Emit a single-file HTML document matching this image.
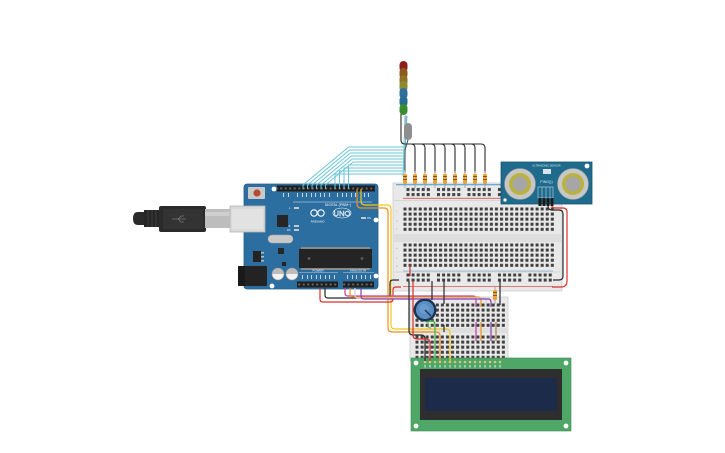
<!DOCTYPE html>
<html><head><meta charset="utf-8"><style>html,body{margin:0;padding:0;background:#fff;}svg{display:block;}</style></head>
<body>
<svg width="725" height="453" viewBox="0 0 725 453" xmlns="http://www.w3.org/2000/svg" font-family="Liberation Sans, sans-serif">
<defs>
<pattern id="pm1" x="402.5" y="206.5" width="5.08" height="5.08" patternUnits="userSpaceOnUse"><rect x="1" y="1" width="3" height="3" fill="#3f3f3f"/></pattern>
<pattern id="pm2" x="402.5" y="242.5" width="5.08" height="5.08" patternUnits="userSpaceOnUse"><rect x="1" y="1" width="3" height="3" fill="#3f3f3f"/></pattern>
<pattern id="pr1" x="405.5" y="187" width="30.48" height="5.08" patternUnits="userSpaceOnUse"><g fill="#3f3f3f"><rect x="1" y="1" width="3" height="3"/><rect x="6.08" y="1" width="3" height="3"/><rect x="11.16" y="1" width="3" height="3"/><rect x="16.24" y="1" width="3" height="3"/><rect x="21.32" y="1" width="3" height="3"/></g></pattern>
<pattern id="pr2" x="405.5" y="272.5" width="30.48" height="5.08" patternUnits="userSpaceOnUse"><g fill="#3f3f3f"><rect x="1" y="1" width="3" height="3"/><rect x="6.08" y="1" width="3" height="3"/><rect x="11.16" y="1" width="3" height="3"/><rect x="16.24" y="1" width="3" height="3"/><rect x="21.32" y="1" width="3" height="3"/></g></pattern>
<pattern id="ps1" x="414.5" y="302.5" width="5.08" height="5.08" patternUnits="userSpaceOnUse"><rect x="1" y="1" width="3" height="3" fill="#3f3f3f"/></pattern>
<pattern id="ps2" x="414.5" y="334.5" width="5.08" height="5.08" patternUnits="userSpaceOnUse"><rect x="1" y="1" width="3" height="3" fill="#3f3f3f"/></pattern>
<pattern id="hdr" x="0" y="0" width="4.5" height="6" patternUnits="userSpaceOnUse"><rect x="1.2" y="1.5" width="2" height="2" fill="#666"/></pattern>
</defs>
<rect width="725" height="453" fill="#fff"/>

<!-- MAIN BREADBOARD -->
<rect x="393" y="183" width="169" height="108" fill="#e9e9e9" stroke="#cdcdcd" stroke-width="0.8"/>
<line x1="394" y1="200.5" x2="561" y2="200.5" stroke="#cfcfcf" stroke-width="0.8"/>
<line x1="394" y1="272" x2="561" y2="272" stroke="#cfcfcf" stroke-width="0.8"/>
<rect x="394" y="234" width="167" height="8" fill="#dedede"/>
<line x1="396" y1="184.8" x2="559" y2="184.8" stroke="#3b9ad2" stroke-width="1"/>
<line x1="403" y1="198.3" x2="553" y2="198.3" stroke="#d9534f" stroke-width="0.8"/>
<line x1="403" y1="271" x2="553" y2="271" stroke="#3b9ad2" stroke-width="0.6"/>
<line x1="403" y1="286.5" x2="553" y2="286.5" stroke="#d9534f" stroke-width="0.8"/>
<rect x="405.5" y="187" width="148" height="10.16" fill="url(#pr1)"/>
<rect x="402.5" y="206.5" width="152.4" height="25.4" fill="url(#pm1)"/>
<rect x="402.5" y="242.5" width="152.4" height="25.4" fill="url(#pm2)"/>
<rect x="405.5" y="272.5" width="148" height="10.16" fill="url(#pr2)"/>
<g fill="#9a9a9a" font-size="2.6"><text x="396" y="212">j</text><text x="396" y="222">h</text><text x="396" y="230">f</text><text x="396" y="249">e</text><text x="396" y="259">c</text><text x="396" y="267">a</text></g>

<!-- SMALL BREADBOARD -->
<rect x="410" y="297" width="98" height="64" fill="#e9e9e9" stroke="#cdcdcd" stroke-width="0.8"/>
<rect x="411" y="328" width="96" height="5" fill="#dedede"/>
<rect x="414.5" y="302.5" width="91.4" height="25.4" fill="url(#ps1)"/>
<rect x="414.5" y="334.5" width="91.4" height="25.4" fill="url(#ps2)"/>

<!-- USB CABLE -->
<path d="M145,212 L138,212 Q133,212 133,218.5 Q133,225 138,225 L145,225 Z" fill="#2a2a2a"/>
<rect x="144" y="210" width="17" height="17" fill="#262626"/>
<g stroke="#444" stroke-width="0.8"><line x1="148" y1="210" x2="148" y2="227"/><line x1="152" y1="210" x2="152" y2="227"/><line x1="156" y1="210" x2="156" y2="227"/></g>
<rect x="159" y="206" width="47" height="26" rx="2" fill="#2b2b2b"/>
<rect x="163" y="209" width="40" height="20" fill="#333"/>
<path d="M172,219 H186 M178,219 L181,216 H184 M178,219 L181,222 H184" stroke="#777" stroke-width="0.8" fill="none"/>
<rect x="205" y="209" width="26" height="19" fill="#bdbdbd"/>
<rect x="205" y="212" width="26" height="4" fill="#cfcfcf"/>

<!-- ARDUINO -->
<rect x="244" y="184" width="134" height="105" rx="3" fill="#2d6ea0" stroke="#245d88" stroke-width="0.8"/>
<rect x="230" y="206" width="35" height="26" fill="#d9d9d9" stroke="#b5b5b5" stroke-width="0.8"/>
<rect x="232" y="209" width="31" height="20" fill="#e2e2e2"/>
<rect x="238" y="266" width="29" height="20" rx="1" fill="#232323"/>
<rect x="238" y="266" width="7" height="20" fill="#1a1a1a"/>
<rect x="248" y="187" width="17" height="12" rx="1" fill="#c9c9c9"/>
<circle cx="257" cy="193" r="3.6" fill="#b84a32"/>
<g fill="#fff"><circle cx="274" cy="189" r="2.4"/><circle cx="376" cy="220" r="2.4"/><circle cx="376" cy="276" r="2.4"/><circle cx="272" cy="286" r="2.4"/></g>
<!-- headers -->
<rect x="277" y="185.5" width="98" height="6" fill="#1f1f1f"/>
<rect x="277" y="185.5" width="98" height="6" fill="url(#hdr)"/>
<rect x="297" y="281.5" width="41" height="6" fill="#1f1f1f"/>
<rect x="297" y="281.5" width="41" height="6" fill="url(#hdr)"/>
<rect x="343" y="281.5" width="31" height="6" fill="#1f1f1f"/>
<rect x="343" y="281.5" width="31" height="6" fill="url(#hdr)"/>
<g fill="#dfe9f2" opacity="0.85">
<rect x="283" y="193" width="1" height="4"/><rect x="288" y="193" width="1" height="4"/><rect x="297" y="193" width="1" height="4"/><rect x="302" y="193" width="1" height="4"/><rect x="306" y="193" width="1" height="4"/><rect x="311" y="193" width="1" height="4"/><rect x="315" y="193" width="1" height="4"/><rect x="320" y="193" width="1" height="4"/><rect x="324" y="193" width="1" height="4"/><rect x="329" y="193" width="1" height="4"/><rect x="337" y="193" width="1" height="4"/><rect x="342" y="193" width="1" height="4"/><rect x="346" y="193" width="1" height="4"/><rect x="351" y="193" width="1" height="4"/><rect x="355" y="193" width="1" height="4"/><rect x="364" y="193" width="1" height="4"/><rect x="368" y="193" width="1" height="4"/>
<rect x="302" y="275" width="1" height="4"/><rect x="307" y="275" width="1" height="4"/><rect x="311" y="275" width="1" height="4"/><rect x="316" y="275" width="1" height="4"/><rect x="320" y="275" width="1" height="4"/><rect x="325" y="275" width="1" height="4"/><rect x="329" y="275" width="1" height="4"/><rect x="334" y="275" width="1" height="4"/>
<rect x="347" y="275" width="1" height="4"/><rect x="352" y="275" width="1" height="4"/><rect x="356" y="275" width="1" height="4"/><rect x="361" y="275" width="1" height="4"/><rect x="365" y="275" width="1" height="4"/><rect x="370" y="275" width="1" height="4"/>
</g>
<line x1="293" y1="202" x2="372" y2="202" stroke="#dfe9f2" stroke-width="0.5"/>
<text x="338" y="206" fill="#fff" font-size="3.4" text-anchor="middle">DIGITAL (PWM~)</text>
<g fill="none" stroke="#fff" stroke-width="1.1"><circle cx="314" cy="213" r="3.2"/><circle cx="321" cy="213" r="3.2"/></g>
<text x="317.5" y="222.5" fill="#fff" font-size="3" text-anchor="middle">ARDUINO</text>
<ellipse cx="342" cy="213" rx="9" ry="5" fill="none" stroke="#fff" stroke-width="0.6"/>
<text x="342" y="216" fill="none" stroke="#fff" stroke-width="0.4" font-size="7.5" text-anchor="middle">UNO</text>
<g fill="#c8c8c8"><rect x="294" y="207" width="5" height="2"/><rect x="294" y="225" width="5" height="2"/><rect x="294" y="229" width="5" height="2"/><rect x="361" y="217" width="5" height="2"/></g>
<g fill="#fff" font-size="2.6"><text x="289" y="209">L</text><text x="287" y="227">TX</text><text x="287" y="231">RX</text><text x="367" y="219">ON</text></g>
<rect x="277" y="215" width="11" height="12" fill="#262626"/>
<rect x="268" y="235" width="25" height="8" rx="4" fill="#c9c9c9" stroke="#aaa" stroke-width="0.5"/>
<rect x="278" y="248" width="6" height="6" fill="#262626"/>
<rect x="253" y="251" width="8" height="11" fill="#232323"/>
<g fill="#bbb"><rect x="261" y="252" width="3" height="1.5"/><rect x="261" y="256" width="3" height="1.5"/><rect x="261" y="260" width="3" height="1.5"/></g>
<rect x="282" y="262" width="4" height="4" fill="#232323"/>
<rect x="299" y="249" width="73" height="19" fill="#242424"/>
<g fill="#555"><circle cx="309" cy="258.5" r="1.5"/><circle cx="362" cy="258.5" r="1.5"/></g>
<g fill="#8a8a8a"><rect x="301" y="247" width="69" height="2"/><rect x="301" y="268" width="69" height="2"/></g>
<circle cx="278" cy="274" r="6" fill="#bdbdbd"/><path d="M272,274 A6,6 0 0 0 284,274 Z" fill="#f2f2f2"/><circle cx="278" cy="274" r="6" fill="none" stroke="#9a9a9a" stroke-width="0.6"/>
<circle cx="292" cy="274" r="6" fill="#bdbdbd"/><path d="M286,274 A6,6 0 0 0 298,274 Z" fill="#f2f2f2"/><circle cx="292" cy="274" r="6" fill="none" stroke="#9a9a9a" stroke-width="0.6"/>
<text x="318" y="271.5" fill="#fff" font-size="3" text-anchor="middle">POWER</text>
<text x="358" y="271.5" fill="#fff" font-size="3" text-anchor="middle">ANALOG IN</text>
<line x1="299" y1="272.5" x2="338" y2="272.5" stroke="#dfe9f2" stroke-width="0.4"/>
<line x1="343" y1="272.5" x2="374" y2="272.5" stroke="#dfe9f2" stroke-width="0.4"/>

<!-- CYAN WIRES -->
<g fill="none" stroke="#6cc6d8" stroke-width="1">
<path d="M303,189 V185 L348.6,147 H404"/>
<path d="M307.5,189 V185 L349.5,150 H404"/>
<path d="M312,189 V185 L350.4,153 H404"/>
<path d="M316.5,189 V185 L351.3,156 H404"/>
<path d="M321,189 V185 L352.2,159 H404"/>
<path d="M325.5,189 V185 L353.1,162 H404"/>
<path d="M348.5,189 V165 H404"/>
<path d="M344,189 V168 H404"/>
<path d="M339.5,189 V171 H404"/>
<path d="M335,189 V174 H404"/>
<path d="M403,176 L405,116"/>
<path d="M404,170 L407,116"/>
<path d="M405,160 L406,118"/>
</g>

<!-- LED STACK -->
<rect x="399.5" y="61" width="8" height="11" rx="4" fill="#8e1e1e"/>
<rect x="399.5" y="68" width="8" height="11" rx="4" fill="#8b5a1d"/>
<rect x="399.5" y="75" width="8" height="11" rx="4" fill="#917026"/>
<rect x="399.5" y="81" width="8" height="11" rx="4" fill="#8d8a2c"/>
<rect x="399.5" y="88" width="8" height="11" rx="4" fill="#2f6f9f"/>
<rect x="399.5" y="96" width="8" height="11" rx="4" fill="#276f92"/>
<rect x="399.5" y="104" width="8" height="11" rx="4" fill="#3a8c2c"/>
<rect x="404" y="123" width="8" height="17" rx="4" fill="#8e8e8e"/>
<line x1="406" y1="115" x2="406" y2="123" stroke="#999" stroke-width="0.8"/>

<!-- BLACK WIRES TOP -->
<g fill="none" stroke="#2a2a2a" stroke-width="1.1">
<path d="M401,114 V140 Q401,144 405,144 H481 Q485,144 485,148 V173"/>
<path d="M411,144 Q415,144 415,148 V173"/>
<path d="M421,144 Q425,144 425,148 V173"/>
<path d="M431,144 Q435,144 435,148 V173"/>
<path d="M441,144 Q445,144 445,148 V173"/>
<path d="M451,144 Q455,144 455,148 V173"/>
<path d="M461,144 Q465,144 465,148 V173"/>
<path d="M471,144 Q475,144 475,148 V173"/>
</g>
<path d="M408,140 L405,150 V173" fill="none" stroke="#4a4a4a" stroke-width="1"/>

<!-- RESISTORS TOP -->
<g>
<g stroke="#999" stroke-width="0.8"><line x1="405" y1="171" x2="405" y2="188"/><line x1="415" y1="171" x2="415" y2="188"/><line x1="425" y1="171" x2="425" y2="188"/><line x1="435" y1="171" x2="435" y2="188"/><line x1="445" y1="171" x2="445" y2="188"/><line x1="455" y1="171" x2="455" y2="188"/><line x1="465" y1="171" x2="465" y2="188"/><line x1="475" y1="171" x2="475" y2="188"/><line x1="485" y1="171" x2="485" y2="188"/></g>
<g fill="#e9a33c"><rect x="403" y="174" width="4" height="10" rx="1"/><rect x="413" y="174" width="4" height="10" rx="1"/><rect x="423" y="174" width="4" height="10" rx="1"/><rect x="433" y="174" width="4" height="10" rx="1"/><rect x="443" y="174" width="4" height="10" rx="1"/><rect x="453" y="174" width="4" height="10" rx="1"/><rect x="463" y="174" width="4" height="10" rx="1"/><rect x="473" y="174" width="4" height="10" rx="1"/><rect x="483" y="174" width="4" height="10" rx="1"/></g>
<g fill="#7a4a1a"><rect x="403" y="176" width="4" height="0.9"/><rect x="413" y="176" width="4" height="0.9"/><rect x="423" y="176" width="4" height="0.9"/><rect x="433" y="176" width="4" height="0.9"/><rect x="443" y="176" width="4" height="0.9"/><rect x="453" y="176" width="4" height="0.9"/><rect x="463" y="176" width="4" height="0.9"/><rect x="473" y="176" width="4" height="0.9"/><rect x="483" y="176" width="4" height="0.9"/>
<rect x="403" y="179" width="4" height="0.9"/><rect x="413" y="179" width="4" height="0.9"/><rect x="423" y="179" width="4" height="0.9"/><rect x="433" y="179" width="4" height="0.9"/><rect x="443" y="179" width="4" height="0.9"/><rect x="453" y="179" width="4" height="0.9"/><rect x="463" y="179" width="4" height="0.9"/><rect x="473" y="179" width="4" height="0.9"/><rect x="483" y="179" width="4" height="0.9"/></g>
</g>

<!-- ULTRASONIC -->
<rect x="501" y="162" width="91" height="42" fill="#1f6b8d" stroke="#17546f" stroke-width="0.8"/>
<circle cx="520" cy="184" r="15.5" fill="#c7c7c7" stroke="#9a9a9a" stroke-width="0.6"/>
<circle cx="520" cy="184" r="11" fill="#b9b23e"/>
<circle cx="520" cy="184" r="7.5" fill="#a6a6a6"/>
<circle cx="573" cy="184" r="15.5" fill="#c7c7c7" stroke="#9a9a9a" stroke-width="0.6"/>
<circle cx="573" cy="184" r="11" fill="#b9b23e"/>
<circle cx="573" cy="184" r="7.5" fill="#a6a6a6"/>
<circle cx="587" cy="166" r="2.4" fill="#fff"/>
<circle cx="505" cy="200" r="1.6" fill="#fff"/>
<rect x="543" y="169" width="8" height="5" fill="#d8e4ea"/>
<text x="546.5" y="166.5" fill="#dfeaf0" font-size="2.6" text-anchor="middle">ULTRASONIC SENSOR</text>
<text x="546.5" y="183" fill="#dfeaf0" font-size="3.6" text-anchor="middle">PING)))</text>
<g stroke="#dfeaf0" stroke-width="0.5" fill="none"><rect x="538" y="187" width="15" height="11"/><line x1="542" y1="187" x2="542" y2="198"/><line x1="546" y1="187" x2="546" y2="198"/><line x1="550" y1="187" x2="550" y2="198"/></g>
<g fill="#1b1b1b"><rect x="538.5" y="198" width="3" height="8"/><rect x="542.5" y="198" width="3" height="8"/><rect x="546.5" y="198" width="3" height="8"/><rect x="550.5" y="198" width="3" height="8"/></g>

<!-- LCD -->
<rect x="411" y="358" width="160" height="73" fill="#4fa767" stroke="#3f8d55" stroke-width="0.6"/>
<g fill="#fff"><circle cx="416" cy="363" r="2.4"/><circle cx="566" cy="363" r="2.4"/><circle cx="416" cy="426" r="2.4"/><circle cx="566" cy="426" r="2.4"/></g>
<rect x="420" y="369" width="142" height="51" fill="#2e2e2e"/>
<rect x="425" y="378" width="132" height="33" fill="#1c2b4a"/>
<g fill="#d7c682"><circle cx="425" cy="362" r="1.3"/><circle cx="430" cy="362" r="1.3"/><circle cx="435" cy="362" r="1.3"/><circle cx="440" cy="362" r="1.3"/><circle cx="445" cy="362" r="1.3"/><circle cx="450" cy="362" r="1.3"/><circle cx="455" cy="362" r="1.3"/><circle cx="460" cy="362" r="1.3"/><circle cx="465" cy="362" r="1.3"/><circle cx="470" cy="362" r="1.3"/><circle cx="475" cy="362" r="1.3"/><circle cx="480" cy="362" r="1.3"/><circle cx="485" cy="362" r="1.3"/><circle cx="490" cy="362" r="1.3"/><circle cx="495" cy="362" r="1.3"/><circle cx="500" cy="362" r="1.3"/></g>
<g fill="#e6f2e8"><rect x="424.5" y="365" width="1" height="2.5"/><rect x="429.5" y="365" width="1" height="2.5"/><rect x="434.5" y="365" width="1" height="2.5"/><rect x="439.5" y="365" width="1" height="2.5"/><rect x="444.5" y="365" width="1" height="2.5"/><rect x="449.5" y="365" width="1" height="2.5"/><rect x="454.5" y="365" width="1" height="2.5"/><rect x="459.5" y="365" width="1" height="2.5"/><rect x="464.5" y="365" width="1" height="2.5"/><rect x="469.5" y="365" width="1" height="2.5"/><rect x="474.5" y="365" width="1" height="2.5"/><rect x="479.5" y="365" width="1" height="2.5"/><rect x="484.5" y="365" width="1" height="2.5"/><rect x="489.5" y="365" width="1" height="2.5"/><rect x="494.5" y="365" width="1" height="2.5"/><rect x="499.5" y="365" width="1" height="2.5"/></g>

<!-- WIRES -->
<g fill="none" stroke-width="1.2" stroke-linejoin="round">
<!-- orange & yellow from digital pins -->
<path d="M357,189 V204 Q357,208 361,208 H384 Q388,208 388,212 V328 Q388,332 392,332 H436 Q440,332 440,336 V361" stroke="#f0901e"/>
<path d="M361,189 V201 Q361,205 365,205 H387 Q391,205 391,209 V325 Q391,329 395,329 H446 Q450,329 450,333 V361" stroke="#f2c81e"/>
<!-- power wires -->
<path d="M320,288 V299 Q320,302 323,302 H390 Q393,302 393,299 V290 Q393,287 396,287 H401" stroke="#d8302a"/>
<path d="M325,288 V295 Q325,298 328,298 H387 Q390,298 390,294 V283 Q390,280 393,280 H399" stroke="#2a2a2a"/>
<!-- analog wires -->
<path d="M345,288 V293 Q345,296 348,296 H473 Q476,296 476,299 V307" stroke="#c23d9e"/>
<path d="M350,288 V294 Q350,297 353,297 H478 Q481,297 481,300 V307" stroke="#f0901e"/>
<path d="M355,288 V295 Q355,298 358,298 H483 Q486,298 486,301 V307" stroke="#d4d4d4"/>
<path d="M361,288 V296 Q361,299 364,299 H488 Q491,299 491,302 V307" stroke="#8a3fb0"/>
<!-- small bb verticals -->
<path d="M476,322 V341" stroke="#c23d9e"/>
<path d="M481,322 V341" stroke="#f0901e"/>
<path d="M491,322 V341" stroke="#8a3fb0"/>
<path d="M496,322 V341" stroke="#a5834e"/>
<!-- main bb to small bb -->
<path d="M410,265 V276" stroke="#d8302a"/>
<path d="M409,281 V331 Q409,335 413,335 H421 Q425,335 425,339 V361" stroke="#2a2a2a"/>
<path d="M413,281 V335 Q413,339 417,339 H426 Q430,339 430,343 V361" stroke="#d8302a"/>
<path d="M432,281 V300" stroke="#2a2a2a"/>
<path d="M444,281 V304" stroke="#2a2a2a"/>
<path d="M444,325 V332" stroke="#2a2a2a"/>
<path d="M500,281 V305" stroke="#2a2a2a"/>
<!-- ultrasonic to rails -->
<path d="M548,206 Q548,210 552,210 H559 Q563,210 563,214 V276 Q563,280 559,280 H553" stroke="#2a2a2a"/>
<path d="M552,206 Q552,208 555,208 H563 Q567,208 567,212 V281 Q567,287 561,287 H552" stroke="#d8302a"/>
</g>

<!-- resistor on small bb -->
<line x1="495" y1="287" x2="495" y2="304" stroke="#999" stroke-width="0.8"/>
<rect x="493" y="290" width="4" height="10" rx="1" fill="#e9a33c"/>
<rect x="493" y="292" width="4" height="0.9" fill="#7a4a1a"/><rect x="493" y="295" width="4" height="0.9" fill="#7a4a1a"/>

<!-- POTENTIOMETER -->
<circle cx="425" cy="310" r="11.5" fill="#1c3552"/>
<circle cx="425" cy="310" r="9" fill="#5a8fc6"/>
<circle cx="424" cy="309" r="5" fill="#6f9fd2" opacity="0.7"/>
<line x1="425" y1="310" x2="431" y2="316" stroke="#1c3552" stroke-width="1.4"/>

<!-- green wire from pot -->
<path d="M426,322 Q430,321 432,321 Q435,321 435,325 V361" fill="none" stroke="#3fae3a" stroke-width="1.2"/>
<path d="M428,322 V326 Q428,328 431,328" fill="none" stroke="#3fae3a" stroke-width="0.8"/>
</svg>
</body></html>
